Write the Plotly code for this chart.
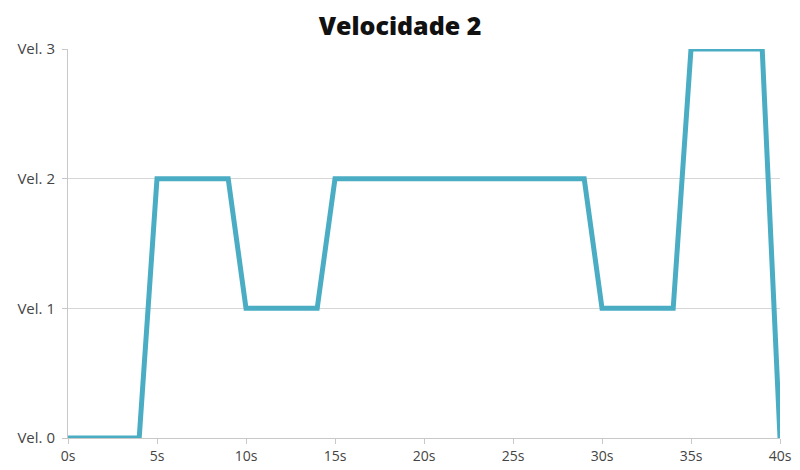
import plotly.graph_objects as go

times = list(range(0, 41))
speeds = [0, 0, 0, 0, 0,
          2, 2, 2, 2, 2,
          1, 1, 1, 1, 1,
          2, 2, 2, 2, 2, 2, 2, 2, 2, 2, 2, 2, 2, 2, 2,
          1, 1, 1, 1, 1,
          3, 3, 3, 3, 3,
          0]
x_tickvals = [0, 5, 10, 15, 20, 25, 30, 35, 40]
x_ticklabels = ["0s", "5s", "10s", "15s", "20s", "25s", "30s", "35s", "40s"]
y_tickvals = [0, 1, 2, 3]
y_ticklabels = ["Vel. 0", "Vel. 1", "Vel. 2", "Vel. 3"]

fig = go.Figure()
fig.add_trace(go.Scatter(
    x=times, y=speeds, mode="lines",
    line=dict(color="#4AADC4", width=5),
    cliponaxis=False, showlegend=False,
))

fig.update_layout(
    width=800, height=470,
    margin=dict(l=68, r=20, t=49, b=32, autoexpand=False),
    paper_bgcolor="white", plot_bgcolor="white",
    title=dict(text="Velocidade 2", x=0.5, xanchor="center", y=1 - 26 / 470, yanchor="middle",
               font=dict(family="Open Sans, sans-serif", size=25, color="#111", weight=800),
               automargin=False),
    font=dict(family="Open Sans, sans-serif", size=14, color="#444"),
)
fig.update_xaxes(
    range=[0, 40], tickvals=x_tickvals, ticktext=x_ticklabels, automargin=False,
    tickfont=dict(size=14),
    showgrid=False, showline=True, linecolor="#c8c8c8", linewidth=1,
    ticks="outside", ticklen=5, tickcolor="#c8c8c8", zeroline=False,
)
fig.update_yaxes(
    range=[0, 3], tickvals=y_tickvals, ticktext=y_ticklabels, automargin=False,
    tickfont=dict(size=15), ticklabelstandoff=4,
    showgrid=True, gridcolor="#d6d6d6", gridwidth=1,
    showline=True, linecolor="#c8c8c8", linewidth=1,
    ticks="outside", ticklen=5, tickcolor="#c8c8c8", zeroline=False,
)

fig.write_html("out.html", config={"displayModeBar": False},
               post_script="document.body.style.margin='0';")
